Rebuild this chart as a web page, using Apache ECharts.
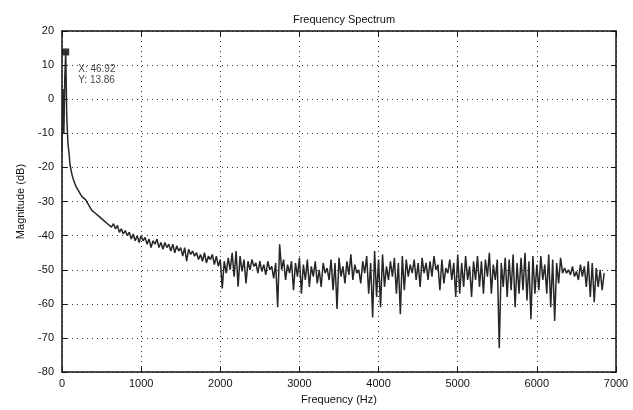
<!DOCTYPE html>
<html><head><meta charset="utf-8">
<script src="https://cdn.jsdelivr.net/npm/echarts@6/dist/echarts.min.js"></script>
<style>html,body{margin:0;padding:0;background:#fff}#c{width:633px;height:410px}</style>
</head><body><div id="c"></div>
<script>
const titleText = "Frequency Spectrum";
const xName = "Frequency (Hz)";
const yName = "Magnitude (dB)";
const xTicks = [0, 1000, 2000, 3000, 4000, 5000, 6000, 7000];
const yTicks = [-80, -70, -60, -50, -40, -30, -20, -10, 0, 10, 20];

const freqHead = [0, 12, 24, 35, 46.92, 60, 75, 90];
const magHead = [-15, 3, -10, 6, 13.86, -5, -13, -16];

const freq = [100,125,150,175,200,225,250,275,300,325,350,375,400,425,450,475,500,525,550,575,600,625,650,675,700,725,750,775,800,825,850,875,900,925,950,975,
1000,1025,1050,1075,1100,1125,1150,1175,1200,1225,1250,1275,1300,1325,1350,1375,1400,1425,1450,1475,1500,1525,1550,1575,1600,1625,1650,1675,1700,1725,1750,1775,1800,1825,1850,1875,1900,1925,1950,1975,
2000,2025,2050,2075,2100,2125,2150,2175,2200,2225,2250,2275,2300,2325,2350,2375,2400,2425,2450,2475,2500,2525,2550,2575,2600,2625,2650,2675,2700,2725,2750,2775,2800,2825,2850,2875,2900,2925,2950,2975,
3000,3025,3050,3075,3100,3125,3150,3175,3200,3225,3250,3275,3300,3325,3350,3375,3400,3425,3450,3475,3500,3525,3550,3575,3600,3625,3650,3675,3700,3725,3750,3775,3800,3825,3850,3875,3900,3925,3950,3975,
4000,4025,4050,4075,4100,4125,4150,4175,4200,4225,4250,4275,4300,4325,4350,4375,4400,4425,4450,4475,4500,4525,4550,4575,4600,4625,4650,4675,4700,4725,4750,4775,4800,4825,4850,4875,4900,4925,4950,4975,
5000,5025,5050,5075,5100,5125,5150,5175,5200,5225,5250,5275,5300,5325,5350,5375,5400,5425,5450,5475,5500,5525,5550,5575,5600,5625,5650,5675,5700,5725,5750,5775,5800,5825,5850,5875,5900,5925,5950,5975,
6000,6025,6050,6075,6100,6125,6150,6175,6200,6225,6250,6275,6300,6325,6350,6375,6400,6425,6450,6475,6500,6525,6550,6575,6600,6625,6650,6675,6700,6725,6750,6775,6800,6825,6850];

const mag = [-19,-22,-24,-25.5,-26.5,-27.5,-28.5,-29,-29.5,-30.5,-31,-32.5,-32,-33.5,-33,-34.5,-34,-35.5,-35,-36.5,-36,-37.5,-36.5,-38,-37,-39,-38,-39.5,-38.5,-40,-39,-41,-39.5,-41.5,-40,-42,
-40,-41.5,-40.5,-42.5,-41,-43.5,-41.5,-42.5,-41,-43.5,-42,-44,-42,-43.5,-42.5,-44.5,-42.5,-45,-43,-44.5,-43.5,-46,-43.5,-47.5,-44,-45.5,-44.5,-46,-45,-47,-45.5,-47.5,-45,-48,-46,-47,-45.5,-48.5,-46,-49,
-47,-55.5,-47.5,-51,-46.5,-50,-45,-52,-44.5,-55,-46,-50.5,-47,-54,-47.5,-50,-47,-49,-48,-51,-47.5,-50.5,-48.5,-51.5,-47.5,-50,-49,-52.5,-48,-61,-42.5,-50,-47,-53,-48.5,-51,-47.5,-56,-48,-52,
-46.5,-57,-48.5,-53,-47,-55,-49,-52,-47.5,-54,-50,-55,-48,-51,-49.5,-53,-47,-56,-48,-61.5,-46.5,-52,-49,-54,-47.5,-51.5,-45.5,-53,-48.5,-51,-50,-54,-47.5,-51,-46,-57,-48,-64,-44.5,-58,
-47,-61,-45.5,-55,-49,-53,-47.5,-52,-46.5,-57,-48,-63,-46,-56,-47,-52,-48.5,-51,-47,-53,-48,-55,-46.5,-51,-48,-53,-47.5,-52,-46,-50,-48.5,-56,-47,-54,-49.5,-51,-47,-53,-48,-58,
-45.5,-57,-48,-55,-46,-53,-49,-58,-47.5,-53,-46,-55,-47.5,-57,-47,-52,-45,-57,-48.5,-53,-47,-73,-48,-55,-46.5,-58,-47,-56,-45.5,-61,-48,-57,-46.5,-56,-45,-59,-47.5,-64.5,-46,-57,
-48.5,-56,-46,-53,-48.5,-57,-45.5,-61,-47,-65,-48,-54,-46.5,-51,-49.5,-51,-50,-51.5,-49,-52,-50.5,-53,-48.5,-52,-49,-55,-47.5,-58,-48,-59.5,-49.5,-55,-50,-56,-51];

const markerX = 46.92, markerY = 13.86;

const lineData = freqHead.map((f, i) => [f, magHead[i]]).concat(freq.map((f, i) => [f, mag[i]]));

const chart = echarts.init(document.getElementById('c'), null, {renderer: 'canvas'});
const fontFam = '"Liberation Sans", Arial, sans-serif';
const gridLine = {show: true, lineStyle: {color: '#333', type: [1, 4], width: 1}};
chart.setOption({
  animation: false,
  backgroundColor: '#fff',
  title: {text: titleText, left: 339, textAlign: 'center', top: 9,
    textStyle: {fontSize: 11, fontWeight: 'normal', color: '#111', fontFamily: fontFam}},
  grid: {left: 62, right: 17, top: 31, bottom: 37},
  xAxis: [{
    type: 'value', min: 0, max: 7000, interval: 1000,
    name: xName, nameLocation: 'middle', nameGap: 21,
    nameTextStyle: {fontSize: 11, color: '#111', fontFamily: fontFam},
    axisLine: {show: true, onZero: false, lineStyle: {color: '#111', width: 1.5}},
    axisTick: {show: true, inside: true, length: 5, lineStyle: {color: '#111'}},
    axisLabel: {fontSize: 11, color: '#111', margin: 6, fontFamily: fontFam,
      formatter: v => String(v)},
    splitLine: gridLine
  }, {
    type: 'value', min: 0, max: 7000, interval: 1000, position: 'top',
    axisLine: {show: true, onZero: false, lineStyle: {color: '#111', width: 1.5}},
    axisTick: {show: true, inside: true, length: 5, lineStyle: {color: '#111'}},
    axisLabel: {show: false}, splitLine: {show: false}
  }],
  yAxis: [{
    type: 'value', min: -80, max: 20, interval: 10,
    name: yName, nameLocation: 'middle', nameGap: 36, nameRotate: 90,
    nameTextStyle: {fontSize: 11, color: '#111', fontFamily: fontFam},
    axisLine: {show: true, onZero: false, lineStyle: {color: '#111', width: 1.5}},
    axisTick: {show: true, inside: true, length: 5, lineStyle: {color: '#111'}},
    axisLabel: {fontSize: 11, color: '#111', margin: 8, fontFamily: fontFam},
    splitLine: gridLine
  }, {
    type: 'value', min: -80, max: 20, interval: 10, position: 'right',
    axisLine: {show: true, onZero: false, lineStyle: {color: '#111', width: 1.5}},
    axisTick: {show: true, inside: true, length: 5, lineStyle: {color: '#111'}},
    axisLabel: {show: false}, splitLine: {show: false}
  }],
  series: [{
    type: 'line', data: lineData, showSymbol: false, symbol: 'none',
    lineStyle: {color: '#262626', width: 1.5}
  }, {
    type: 'scatter', data: [[markerX, markerY]], symbol: 'rect', symbolSize: 7,
    itemStyle: {color: '#000'},
    label: {show: true, position: [16, 15], formatter: 'X: ' + markerX + '\nY: ' + markerY,
      fontSize: 10, lineHeight: 11, color: '#111', fontFamily: fontFam}
  }]
});
</script></body></html>
